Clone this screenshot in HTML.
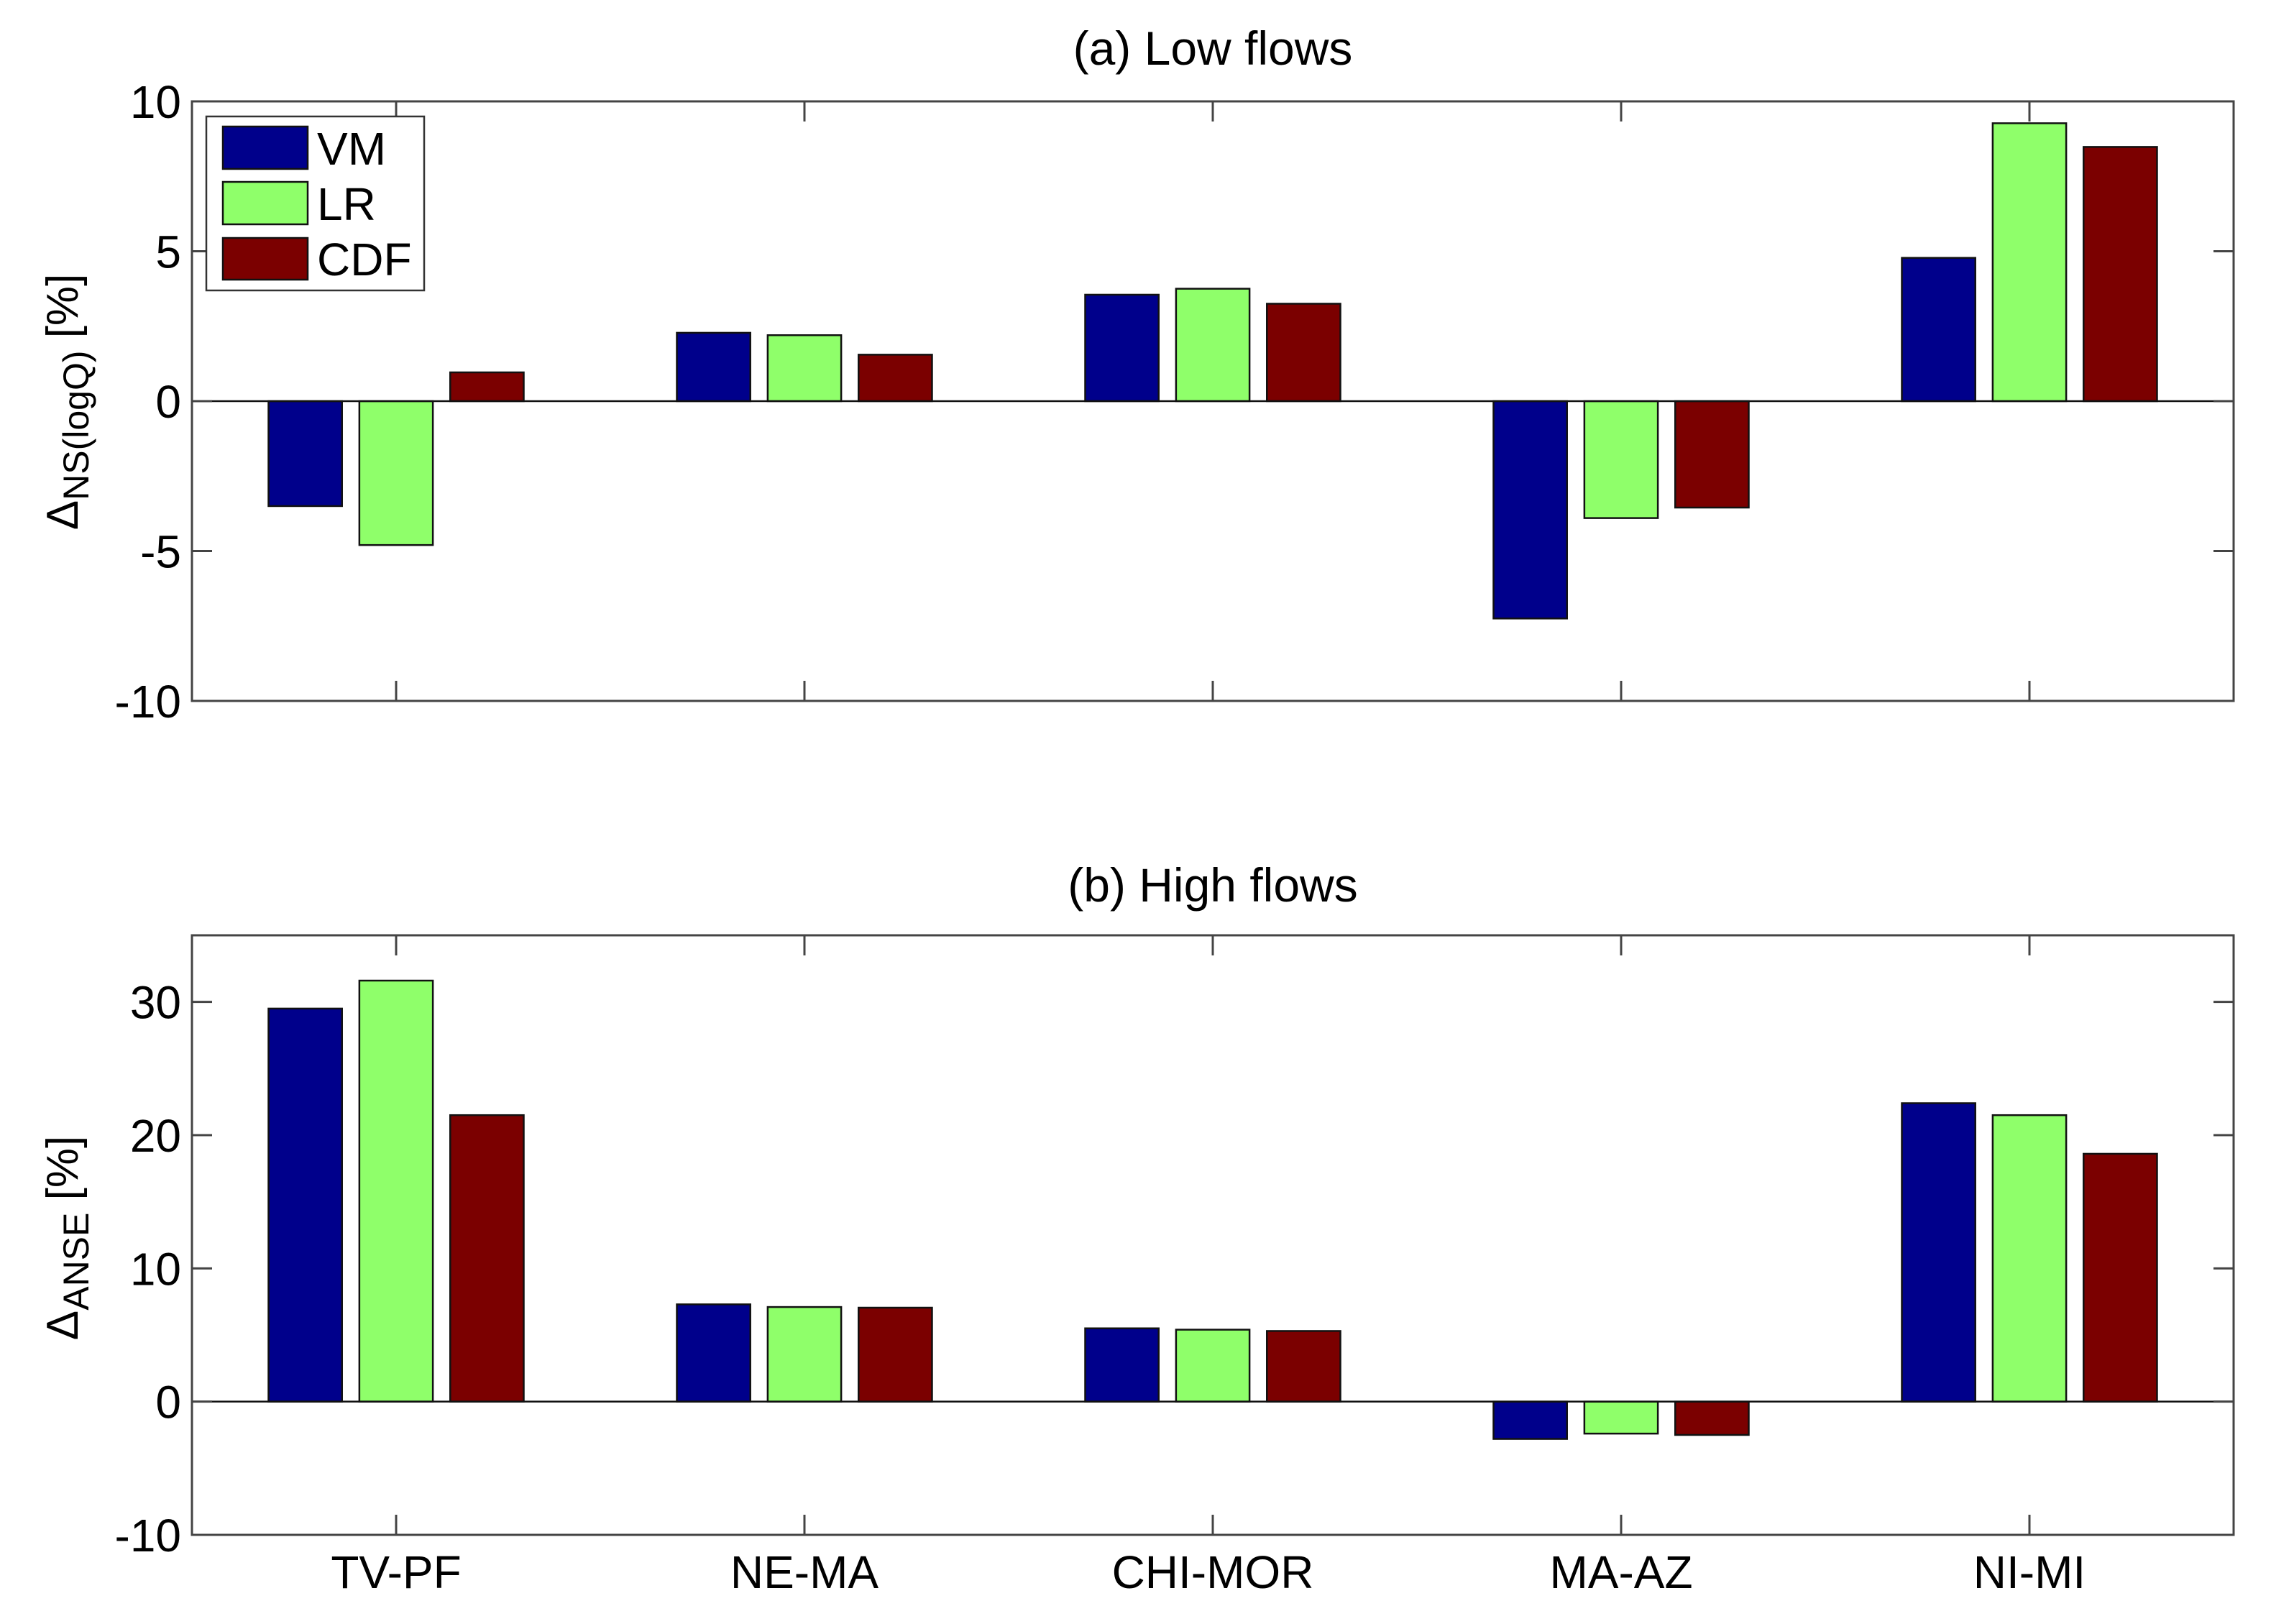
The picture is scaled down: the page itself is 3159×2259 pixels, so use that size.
<!DOCTYPE html>
<html><head><meta charset="utf-8"><style>
html,body{margin:0;padding:0;background:#fff;}
svg{display:block;font-family:"Liberation Sans",Arial,sans-serif;}
</style></head><body>
<svg id="chart" width="3159" height="2259" viewBox="0 0 3159 2259" xmlns="http://www.w3.org/2000/svg">
<rect width="3159" height="2259" fill="#fff"/>
<text x="1687" y="90" font-size="66" text-anchor="middle">(a) Low flows</text>
<text x="1687" y="1254" font-size="66" text-anchor="middle">(b) High flows</text>
<g id="pa"></g>
<g id="pb"></g>
<text transform="translate(108,559) rotate(-90)" font-size="62" text-anchor="middle">Δ<tspan font-size="50" dy="15">NS(logQ)</tspan><tspan dy="-15"> [%]</tspan></text>
<text transform="translate(108,1722) rotate(-90)" font-size="62" text-anchor="middle">Δ<tspan font-size="50" dy="15">ANSE</tspan><tspan dy="-15"> [%]</tspan></text>
<g>
<rect x="287" y="162" width="303" height="242" fill="#fff" stroke="#333" stroke-width="2.5"/>
<rect x="310" y="176" width="118" height="59" fill="#00008B" stroke="#111" stroke-width="2.5"/>
<rect x="310" y="253" width="118" height="59" fill="#8FFF6A" stroke="#111" stroke-width="2.5"/>
<rect x="310" y="331" width="118" height="58" fill="#7B0000" stroke="#111" stroke-width="2.5"/>
<text x="441" y="229" font-size="64">VM</text>
<text x="441" y="306" font-size="64">LR</text>
<text x="441" y="383" font-size="64">CDF</text>
</g>
</svg>
<script>
const categories = ["TV-PF","NE-MA","CHI-MOR","MA-AZ","NI-MI"];
const seriesNames = ["VM","LR","CDF"];
const lowVM = [-3.5, 2.28, 3.55, -7.25, 4.78];
const lowLR = [-4.8, 2.2, 3.75, -3.9, 9.27];
const lowCDF = [0.96, 1.55, 3.25, -3.55, 8.48];
const highVM = [29.5, 7.3, 5.5, -2.8, 22.4];
const highLR = [31.6, 7.1, 5.4, -2.4, 21.5];
const highCDF = [21.5, 7.05, 5.3, -2.5, 18.6];
const lowTicks = [-10,-5,0,5,10];
const highTicks = [-10,0,10,20,30];
const colors = ["#00008B","#8FFF6A","#7B0000"];
const NS = "http://www.w3.org/2000/svg";
const L = 267, R = 3107;
function xs(v){ return L + (v-0.5)*(R-L)/5; }
function mk(tag, attrs, parent){ const e=document.createElementNS(NS,tag); for(const k in attrs) e.setAttribute(k,attrs[k]); parent.appendChild(e); return e; }
function panel(g, top, bottom, ymin, ymax, ticks, series, showX){
  const ys = v => bottom - (v-ymin)*(bottom-top)/(ymax-ymin);
  const u = (R-L)/5;
  series.forEach((vals, si) => {
    vals.forEach((v, ci) => {
      const x0 = xs(ci+1) + (si-1)*0.2225*u - 0.09*u;
      const w = 0.18*u;
      const y0 = ys(Math.max(v,0)), y1 = ys(Math.min(v,0));
      const r = mk("rect",{x:x0,y:y0,width:w,height:y1-y0,fill:colors[si],stroke:"#111","stroke-width":2.5},g);
      
      
    });
  });
  const z = mk("line",{x1:L,x2:R,y1:ys(0),y2:ys(0),stroke:"#111","stroke-width":2.5},g);
  
  
  const f = mk("rect",{x:L,y:top,width:R-L,height:bottom-top,fill:"none",stroke:"#444","stroke-width":3},g);
  
  
  ticks.forEach(t => {
    const y = ys(t);
    mk("line",{x1:L,x2:L+28,y1:y,y2:y,stroke:"#444","stroke-width":3},g);
    mk("line",{x1:R-28,x2:R,y1:y,y2:y,stroke:"#444","stroke-width":3},g);
    const tx = mk("text",{x:252,y:y+23,"font-size":64,"text-anchor":"end"},g);
    tx.textContent = t;
    
    
  });
  categories.forEach((c, ci) => {
    const x = xs(ci+1);
    mk("line",{x1:x,x2:x,y1:top,y2:top+28,stroke:"#444","stroke-width":3},g);
    mk("line",{x1:x,x2:x,y1:bottom-28,y2:bottom,stroke:"#444","stroke-width":3},g);
    if(showX){
      const tx = mk("text",{x:x,y:bottom+74,"font-size":64,"text-anchor":"middle"},g);
      tx.textContent = c;
      
      
    }
  });
}
panel(document.getElementById("pa"), 141, 975, -10, 10, lowTicks, [lowVM, lowLR, lowCDF], false);
panel(document.getElementById("pb"), 1301, 2135, -10, 35, highTicks, [highVM, highLR, highCDF], true);
</script>
</body></html>
